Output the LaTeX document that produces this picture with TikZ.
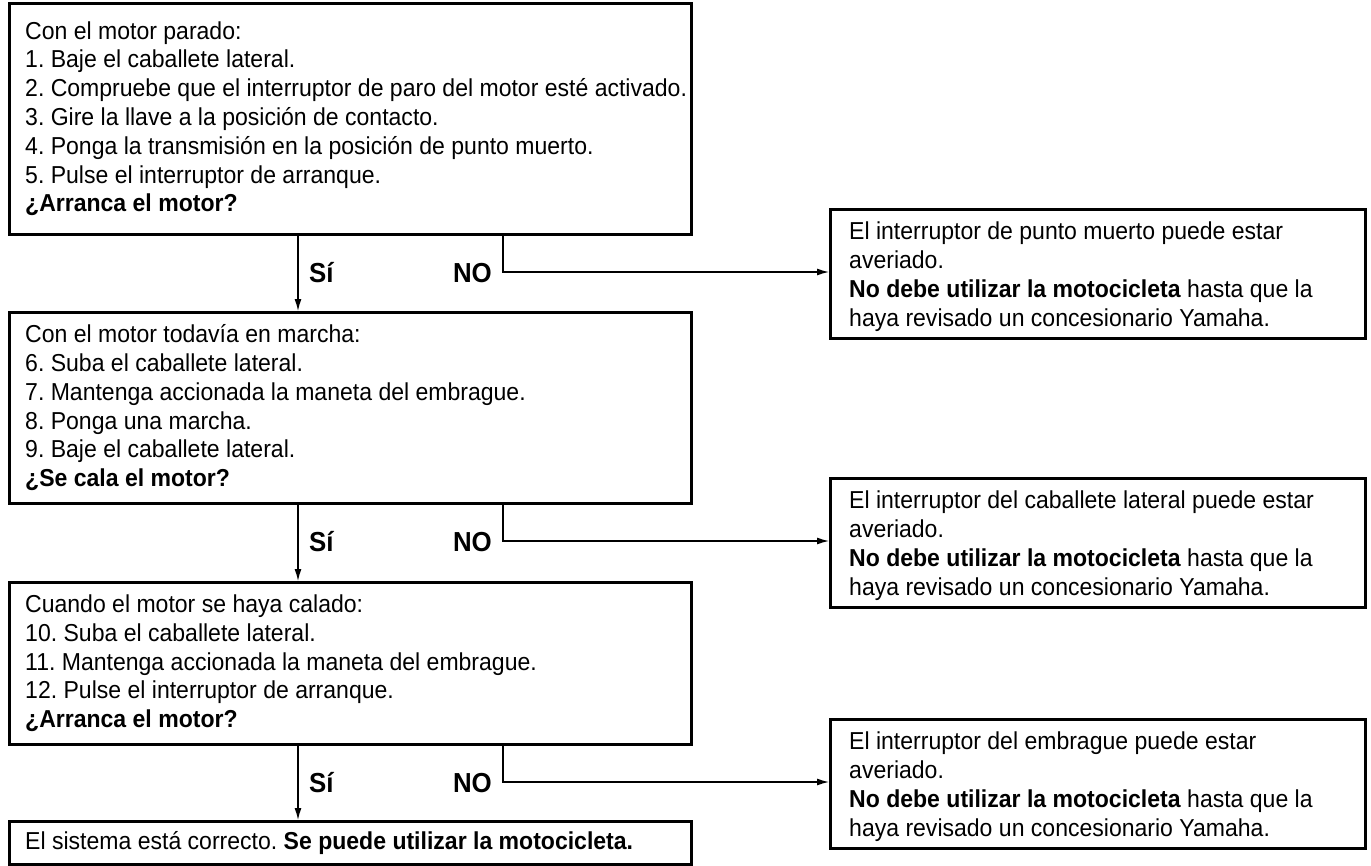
\documentclass[tikz,border=0pt]{standalone}
\usepackage{fontspec}
\setmainfont{Liberation Sans}[FakeStretch=0.94]
\usetikzlibrary{arrows.meta,calc}
\frenchspacing
\begin{document}
\begin{tikzpicture}[x=1pt,y=-1pt,
  frame/.style={draw, line width=2.6pt, anchor=north west, inner sep=0pt},
  lframe/.style={frame, minimum width=682pt},
  rframe/.style={frame, minimum width=535pt, minimum height=129pt},
  body/.style={anchor=west, align=left, inner sep=0pt, font=\fontsize{24.5}{28.8}\selectfont},
  lbl/.style={font=\fontsize{27.5}{30}\selectfont\bfseries, inner sep=0pt},
  arr/.style={line width=1.3pt, -{Latex[length=12pt,width=7pt]}}
]
\useasboundingbox (0,0) rectangle (1371,865);

% left boxes
\node[lframe, minimum height=231pt] (b1) at (8,2) {};
\node[lframe, minimum height=191pt] (b2) at (8,311) {};
\node[lframe, minimum height=162pt] (b3) at (8,581) {};
\node[lframe, minimum height=43pt]  (b4) at (8,820) {};

% right boxes
\node[rframe] (r1) at (829,208) {};
\node[rframe] (r2) at (829,477) {};
\node[rframe] (r3) at (829,718) {};

% texts in left boxes
\node[body] (t1) at ($(b1.west)+(17,0)$) {Con el motor parado:\\
1. Baje el caballete lateral.\\
2. Compruebe que el interruptor de paro del motor esté activado.\\
3. Gire la llave a la posición de contacto.\\
4. Ponga la transmisión en la posición de punto muerto.\\
5. Pulse el interruptor de arranque.\\
\textbf{¿Arranca el motor?}};

\node[body] (t2) at ($(b2.west)+(17,0)$) {Con el motor todavía en marcha:\\
6. Suba el caballete lateral.\\
7. Mantenga accionada la maneta del embrague.\\
8. Ponga una marcha.\\
9. Baje el caballete lateral.\\
\textbf{¿Se cala el motor?}};

\node[body] (t3) at ($(b3.west)+(17,0)$) {Cuando el motor se haya calado:\\
10. Suba el caballete lateral.\\
11. Mantenga accionada la maneta del embrague.\\
12. Pulse el interruptor de arranque.\\
\textbf{¿Arranca el motor?}};

\node[body] (t4) at ($(b4.west)+(17,0)$) {El sistema está correcto. \textbf{Se puede utilizar la motocicleta.}};

% texts in right boxes
\node[body] (u1) at ($(r1.west)+(20,3)$) {El interruptor de punto muerto puede estar\\
averiado.\\
\textbf{No debe utilizar la motocicleta} hasta que la\\
haya revisado un concesionario Yamaha.};

\node[body] (u2) at ($(r2.west)+(20,3)$) {El interruptor del caballete lateral puede estar\\
averiado.\\
\textbf{No debe utilizar la motocicleta} hasta que la\\
haya revisado un concesionario Yamaha.};

\node[body] (u3) at ($(r3.west)+(20,3)$) {El interruptor del embrague puede estar\\
averiado.\\
\textbf{No debe utilizar la motocicleta} hasta que la\\
haya revisado un concesionario Yamaha.};

% connector helper coordinates
\coordinate (sx) at (298,0);
\coordinate (n1) at (503,272);
\coordinate (n2) at (503,541);
\coordinate (n3) at (503,782);

% Sí arrows
\draw[arr] (b1.south -| sx) -- (b2.north -| sx);
\draw[arr] (b2.south -| sx) -- (b3.north -| sx);
\draw[arr] (b3.south -| sx) -- (b4.north -| sx);

% NO connectors
\draw[arr] (b1.south -| n1) |- (r1.west |- n1);
\draw[arr] (b2.south -| n2) |- (r2.west |- n2);
\draw[arr] (b3.south -| n3) |- (r3.west |- n3);

% labels
\node[lbl, anchor=base west] (s1) at (309,282) {Sí};
\node[lbl, anchor=base east] (o1) at (492,282) {NO};
\node[lbl, anchor=base west] (s2) at (309,551) {Sí};
\node[lbl, anchor=base east] (o2) at (492,551) {NO};
\node[lbl, anchor=base west] (s3) at (309,792) {Sí};
\node[lbl, anchor=base east] (o3) at (492,792) {NO};
\end{tikzpicture}
\end{document}
